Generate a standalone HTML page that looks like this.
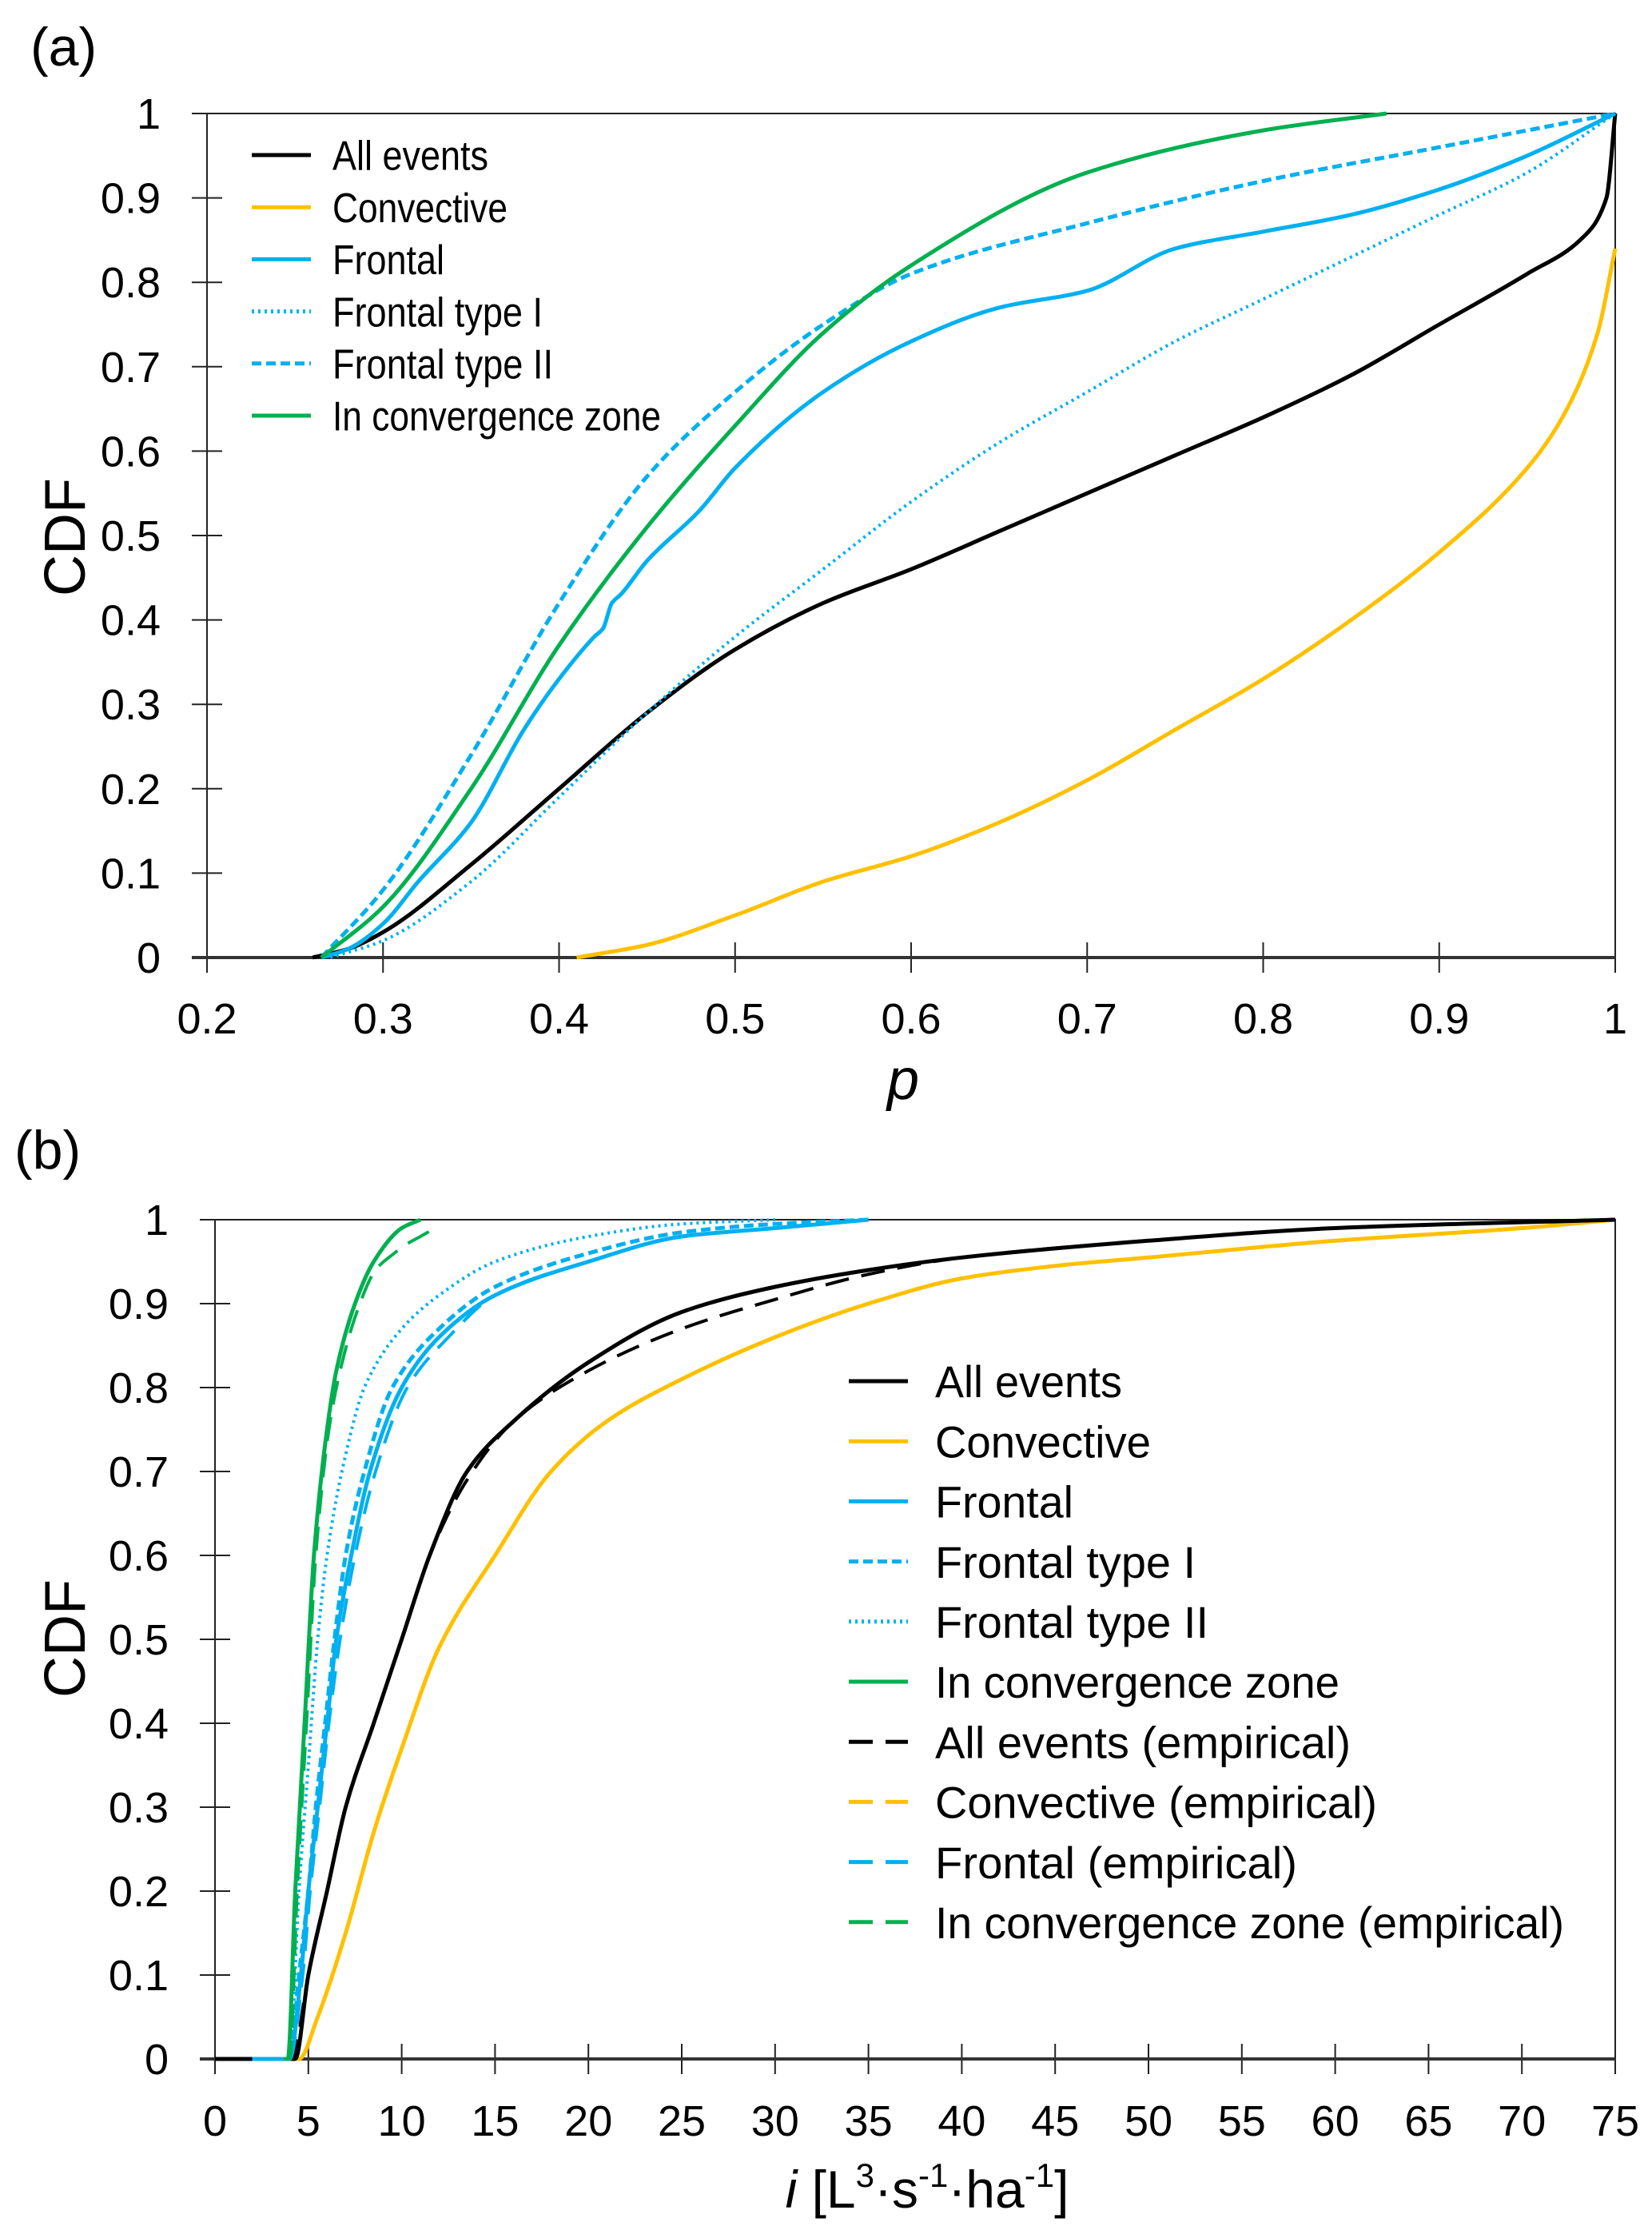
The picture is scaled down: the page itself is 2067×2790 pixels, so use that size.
<!DOCTYPE html>
<html><head><meta charset="utf-8"><style>
html,body{margin:0;padding:0;background:#fff;}
svg{display:block;}
text{font-family:"Liberation Sans Narrow","Liberation Sans",sans-serif;fill:#000;}
</style></head><body>
<svg id="fig" width="2067" height="2790" viewBox="0 0 2067 2790" xmlns="http://www.w3.org/2000/svg">
<text x="38" y="82" font-size="68" style="font-family:'Liberation Sans',sans-serif">(a)</text>
<text x="18" y="1462" font-size="68" style="font-family:'Liberation Sans',sans-serif">(b)</text>
<text transform="translate(106,672) rotate(-90)" text-anchor="middle" font-size="72" style="font-family:'Liberation Sans',sans-serif">CDF</text>
<text transform="translate(106,2050) rotate(-90)" text-anchor="middle" font-size="72" style="font-family:'Liberation Sans',sans-serif">CDF</text>
<text x="1130" y="1375" text-anchor="middle" font-size="72" font-style="italic">p</text>
<text x="1160" y="2762" text-anchor="middle" font-size="66"><tspan font-style="italic">i</tspan> [L<tspan font-size="42" dy="-26">3</tspan><tspan dy="26">·s</tspan><tspan font-size="42" dy="-26">-1</tspan><tspan dy="26">·ha</tspan><tspan font-size="42" dy="-26">-1</tspan><tspan dy="26">]</tspan></text>
<g id="ga"></g><g id="gb"></g>
</svg>
<script>
// ---------- Panel (a) data ----------
const aAllX=[0.26,0.28,0.3,0.35,0.4,0.45,0.5,0.55,0.6,0.65,0.7,0.75,0.8,0.85,0.9,0.95,0.98,0.995,1.0];
const aAllY=[0,0.01,0.03,0.11,0.2,0.29,0.365,0.42,0.46,0.505,0.55,0.595,0.64,0.69,0.75,0.81,0.85,0.9,1.0];
const aConvX=[0.41,0.45,0.5,0.55,0.6,0.65,0.7,0.75,0.8,0.85,0.9,0.95,0.97,0.99,1.0];
const aConvY=[0,0.015,0.05,0.09,0.12,0.16,0.21,0.27,0.33,0.4,0.48,0.58,0.64,0.74,0.84];
const aFrX=[0.265,0.28,0.3,0.32,0.35,0.38,0.4,0.42,0.425,0.43,0.435,0.45,0.48,0.5,0.55,0.6,0.65,0.7,0.75,0.8,0.85,0.9,0.95,1.0];
const aFrY=[0,0.01,0.04,0.09,0.16,0.27,0.33,0.38,0.39,0.42,0.43,0.47,0.53,0.58,0.67,0.73,0.77,0.79,0.84,0.86,0.88,0.91,0.95,1.0];
const aF1X=[0.27,0.3,0.35,0.4,0.45,0.5,0.55,0.6,0.65,0.7,0.75,0.8,0.85,0.9,0.95,1.0];
const aF1Y=[0,0.02,0.09,0.19,0.29,0.38,0.46,0.54,0.61,0.67,0.73,0.78,0.83,0.88,0.93,1.0];
const aF2X=[0.265,0.3,0.35,0.4,0.45,0.5,0.55,0.6,0.7,0.8,0.9,1.0];
const aF2Y=[0,0.08,0.24,0.42,0.57,0.67,0.75,0.81,0.87,0.92,0.96,1.0];
const aGrX=[0.265,0.3,0.35,0.4,0.45,0.5,0.55,0.6,0.7,0.8,0.87];
const aGrY=[0,0.06,0.2,0.37,0.51,0.63,0.74,0.82,0.93,0.98,1.0];
const aXTicks=["0.2","0.3","0.4","0.5","0.6","0.7","0.8","0.9","1"];
const aYTicks=["0","0.1","0.2","0.3","0.4","0.5","0.6","0.7","0.8","0.9","1"];
// ---------- Panel (b) data ----------
const bAllX=[0,4.3,5,6,7,8.5,10,11.5,13.5,16,20,25,30,35,40,50,60,75];
const bAllY=[0,0,0.1,0.2,0.3,0.4,0.5,0.6,0.7,0.76,0.83,0.89,0.92,0.94,0.955,0.975,0.99,1];
const bAllEX=[0,4.1,5,6,7,8.5,10,11.5,13.5,16,20,25,30,35,40,50,60,75];
const bAllEY=[0,0,0.1,0.2,0.3,0.4,0.5,0.6,0.69,0.76,0.82,0.87,0.905,0.935,0.955,0.975,0.99,1];
const bConvX=[0,4.5,5.5,7,8.5,10,12,15,18,21,25,30,35,40,45,50,60,70,75];
const bConvY=[0,0,0.05,0.15,0.27,0.37,0.49,0.6,0.7,0.76,0.81,0.86,0.9,0.93,0.945,0.955,0.975,0.99,1];
const bFrX=[2,4,4.6,5,5.5,6,6.5,7.3,8.3,10,12,15,20,25,30,35];
const bFrY=[0,0,0.1,0.2,0.3,0.4,0.5,0.6,0.7,0.8,0.86,0.91,0.95,0.98,0.99,1];
const bF1X=[2,4,4.5,5,5.4,5.9,6.4,7,8,9.5,12,15,20,25,30,35];
const bF1Y=[0,0,0.1,0.2,0.3,0.4,0.5,0.6,0.7,0.8,0.87,0.92,0.96,0.985,0.995,1];
const bF2X=[2,4,4.5,5,5.5,6,7,8,10,12,15,20,25,30];
const bF2Y=[0,0,0.2,0.35,0.5,0.6,0.72,0.8,0.87,0.91,0.95,0.98,0.995,1];
const bFrEX=[2,4,4.7,5.1,5.6,6.1,6.7,7.5,8.6,10.3,12.5,15,20,25,30,35];
const bFrEY=[0,0,0.1,0.2,0.3,0.4,0.5,0.6,0.7,0.8,0.86,0.91,0.95,0.98,0.99,1];
const bGrX=[3.7,3.9,4.3,4.8,5.3,6,6.5,7.5,8.5,10,11];
const bGrY=[0,0,0.2,0.4,0.6,0.75,0.82,0.9,0.95,0.99,1];
const bGrEX=[3.7,4,4.4,4.9,5.4,6.1,6.6,7.6,8.6,9.6,10.2,11,11.8];
const bGrEY=[0,0,0.2,0.4,0.6,0.75,0.81,0.89,0.94,0.96,0.97,0.98,0.99];
const bXTicks=["0","5","10","15","20","25","30","35","40","45","50","55","60","65","70","75"];
const bYTicks=["0","0.1","0.2","0.3","0.4","0.5","0.6","0.7","0.8","0.9","1"];

const NS="http://www.w3.org/2000/svg";
const BLACK="#000",ORANGE="#FFC000",BLUE="#00B0F0",GREEN="#00B050";
function mk(p,tag,attrs){const e=document.createElementNS(NS,tag);for(const k in attrs)e.setAttribute(k,attrs[k]);p.appendChild(e);return e;}

// monotone cubic path through pixel points
function monoPath(X,Y){
  const n=X.length;if(n<2)return '';
  const d=[],m=new Array(n);
  for(let i=0;i<n-1;i++)d.push((Y[i+1]-Y[i])/(X[i+1]-X[i]));
  m[0]=d[0];m[n-1]=d[n-2];
  for(let i=1;i<n-1;i++){
    if(d[i-1]*d[i]<=0)m[i]=0;
    else{const h0=X[i]-X[i-1],h1=X[i+1]-X[i];const w1=2*h1+h0,w2=h1+2*h0;m[i]=(w1+w2)/(w1/d[i-1]+w2/d[i]);}
  }
  let s='M'+X[0].toFixed(1)+','+Y[0].toFixed(1);
  for(let i=0;i<n-1;i++){
    const h=(X[i+1]-X[i])/3;
    s+=' C'+(X[i]+h).toFixed(1)+','+(Y[i]+m[i]*h).toFixed(1)+' '+(X[i+1]-h).toFixed(1)+','+(Y[i+1]-m[i+1]*h).toFixed(1)+' '+X[i+1].toFixed(1)+','+Y[i+1].toFixed(1);
  }
  return s;
}

function panel(g,cfg){
  const sx=v=>cfg.L+(v-cfg.x0)/(cfg.x1-cfg.x0)*(cfg.R-cfg.L);
  const sy=v=>cfg.B-v*(cfg.B-cfg.T);
  const fr=mk(g,'rect',{x:cfg.L,y:cfg.T,width:cfg.R-cfg.L,height:cfg.B-cfg.T,fill:'none',stroke:'#222','stroke-width':2});
  
  
  cfg.yTicks.forEach((t,i)=>{
    const y=sy(i/10);
    const ln=mk(g,'line',{x1:cfg.L-19,x2:cfg.L+19,y1:y,y2:y,stroke:'#222','stroke-width':2});
    
    
    const tx=mk(g,'text',{x:cfg.L-58,y:y+19,'text-anchor':'end','font-size':54});
    tx.textContent=t;
    
    
  });
  cfg.xTicks.forEach((t,i)=>{
    const v=parseFloat(t);const x=sx(v);
    const ln=mk(g,'line',{x1:x,x2:x,y1:cfg.B-19,y2:cfg.B+19,stroke:'#222','stroke-width':2});
    
    
    const tx=mk(g,'text',{x:x,y:cfg.xLabY,'text-anchor':'middle','font-size':54});
    tx.textContent=t;
    
    
  });
  const base=mk(g,'line',{x1:cfg.L-19,x2:cfg.R,y1:cfg.B,y2:cfg.B,stroke:'#333','stroke-width':4});
  
  
  cfg.series.forEach(s=>{
    const d=monoPath(s.x.map(sx),s.y.map(sy));
    const p=mk(g,'path',{d:d,fill:'none',stroke:s.c,'stroke-width':s.w||5,'stroke-linejoin':'round'});
    if(s.dash)p.setAttribute('stroke-dasharray',s.dash);
    
    
  });
  cfg.legend.forEach((e,i)=>{
    const y=cfg.legY+i*cfg.legDy;
    const ln=mk(g,'line',{x1:cfg.legX,x2:cfg.legX+74,y1:y,y2:y,stroke:e.c,'stroke-width':5});
    if(e.dash)ln.setAttribute('stroke-dasharray',e.dash);
    
    
    const tx=mk(g,'text',{x:cfg.legTX,y:y+cfg.legFs*0.36,'font-size':cfg.legFs,textLength:e.len,lengthAdjust:'spacingAndGlyphs'});
    tx.textContent=e.t;
    
    
  });
}
panel(document.getElementById('ga'),{L:259,R:2021,T:142,B:1198,x0:0.2,x1:1.0,xLabY:1293,
  xTicks:aXTicks,yTicks:aYTicks,
  series:[
    {name:'series-convective',x:aConvX,y:aConvY,c:ORANGE},
    {name:'series-all-events',x:aAllX,y:aAllY,c:BLACK},
    {name:'series-frontal-type-1',x:aF1X,y:aF1Y,c:BLUE,dash:'3 5',w:4},
    {name:'series-frontal',x:aFrX,y:aFrY,c:BLUE},
    {name:'series-frontal-type-2',x:aF2X,y:aF2Y,c:BLUE,dash:'12 6'},
    {name:'series-convergence-zone',x:aGrX,y:aGrY,c:GREEN}],
  legX:315,legTX:416,legY:194,legDy:65.2,legFs:52,
  legend:[{t:'All events',c:BLACK,len:195},{t:'Convective',c:ORANGE,len:219},{t:'Frontal',c:BLUE,len:140},
    {t:'Frontal type I',c:BLUE,dash:'3 5',len:263},{t:'Frontal type II',c:BLUE,dash:'12 6',len:276},{t:'In convergence zone',c:GREEN,len:411}]
});
panel(document.getElementById('gb'),{L:269,R:2021,T:1526,B:2576,x0:0,x1:75,xLabY:2672,
  xTicks:bXTicks,yTicks:bYTicks,
  series:[
    {name:'series-convective',x:bConvX,y:bConvY,c:ORANGE},
    {name:'series-convective-empirical',x:bConvX,y:bConvY,c:ORANGE,dash:'30 16',w:4},
    {name:'series-all-events',x:bAllX,y:bAllY,c:BLACK},
    {name:'series-all-events-empirical',x:bAllEX,y:bAllEY,c:BLACK,dash:'30 16',w:4},
    {name:'series-frontal-type-2',x:bF2X,y:bF2Y,c:BLUE,dash:'3 5',w:4},
    {name:'series-frontal',x:bFrX,y:bFrY,c:BLUE},
    {name:'series-frontal-type-1',x:bF1X,y:bF1Y,c:BLUE,dash:'12 6'},
    {name:'series-frontal-empirical',x:bFrEX,y:bFrEY,c:BLUE,dash:'30 16',w:4},
    {name:'series-convergence-zone',x:bGrX,y:bGrY,c:GREEN},
    {name:'series-convergence-zone-empirical',x:bGrEX,y:bGrEY,c:GREEN,dash:'30 16',w:4}],
  legX:1062,legTX:1170,legY:1728,legDy:75.2,legFs:56,
  legend:[{t:'All events',c:BLACK,len:234},{t:'Convective',c:ORANGE,len:270},{t:'Frontal',c:BLUE,len:173},
    {t:'Frontal type I',c:BLUE,dash:'12 6',len:326},{t:'Frontal type II',c:BLUE,dash:'3 5',len:342},{t:'In convergence zone',c:GREEN,len:506},
    {t:'All events (empirical)',c:BLACK,dash:'30 16',len:520},{t:'Convective (empirical)',c:ORANGE,dash:'30 16',len:553},
    {t:'Frontal (empirical)',c:BLUE,dash:'30 16',len:453},{t:'In convergence zone (empirical)',c:GREEN,dash:'30 16',len:787}]
});
</script>
</body></html>
